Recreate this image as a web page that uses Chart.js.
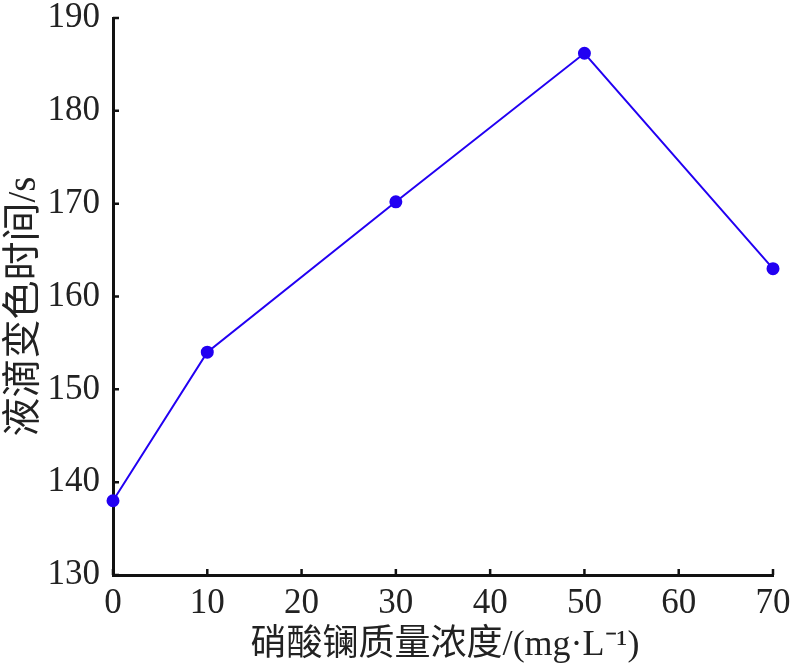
<!DOCTYPE html>
<html>
<head>
<meta charset="utf-8">
<script src="https://cdn.jsdelivr.net/npm/chart.js@4/dist/chart.umd.min.js"></script>
<style>
html,body{margin:0;padding:0;background:#fff;}
#wrap{width:800px;height:667px;position:relative;}
</style>
</head>
<body>
<div id="wrap"><canvas id="c" width="800" height="667"></canvas></div>
<script>
const concentrations = [0, 10, 30, 50, 70];
const colorTimes = [138, 154, 170.2, 186.2, 163];
const xTicks = [0, 10, 20, 30, 40, 50, 60, 70];
const yTicks = [130, 140, 150, 160, 170, 180, 190];
const xTitle = '硝酸镧质量浓度/(mg·L⁻¹)';
const yTitle = '液滴变色时间/s';

const FONT = "'Liberation Serif', 'Noto Sans CJK SC', serif";
const lineColor = '#2200f2';

const inwardTicks = {
  id: 'inwardTicks',
  afterDraw(chart) {
    const ctx = chart.ctx;
    const xs = chart.scales.x, ys = chart.scales.y;
    const L = 6;
    ctx.save();
    ctx.strokeStyle = '#111';
    ctx.lineWidth = 2.5;
    ctx.beginPath();
    xTicks.forEach(v => {
      const px = xs.getPixelForValue(v);
      ctx.moveTo(px, ys.bottom);
      ctx.lineTo(px, ys.bottom - L);
    });
    yTicks.forEach(v => {
      const py = ys.getPixelForValue(v);
      ctx.moveTo(xs.left, py);
      ctx.lineTo(xs.left + L, py);
    });
    ctx.stroke();
    // axis titles
    ctx.fillStyle = '#222';
    ctx.textAlign = 'center';
    ctx.textBaseline = 'alphabetic';
    ctx.font = "36px " + FONT;
    ctx.fillText(xTitle, (xs.left + xs.right) / 2 + 2, 655);
    ctx.save();
    ctx.translate(35, (ys.top + ys.bottom) / 2 + 10);
    ctx.rotate(-Math.PI / 2);
    ctx.font = "39px " + FONT;
    ctx.fillText(yTitle, 0, 0);
    ctx.restore();
    ctx.restore();
  }
};

new Chart(document.getElementById('c'), {
  type: 'scatter',
  data: {
    datasets: [{
      data: concentrations.map((x, i) => ({x: x, y: colorTimes[i]})),
      showLine: true,
      clip: false,
      borderColor: lineColor,
      backgroundColor: lineColor,
      borderWidth: 2,
      pointRadius: 5.5,
      pointHoverRadius: 5.5,
      tension: 0
    }]
  },
  options: {
    responsive: false,
    animation: false,
    devicePixelRatio: 1,
    plugins: { legend: {display: false}, tooltip: {enabled: false} },
    layout: { padding: {top: 18, right: 27, left: 0, bottom: 0} },
    scales: {
      x: {
        type: 'linear',
        min: 0, max: 70,
        afterBuildTicks(s) { s.ticks = xTicks.map(v => ({value: v})); },
        afterFit(s) { s.height = 92; s.paddingLeft = 0; s.paddingRight = 0; },
        grid: {display: false},
        border: {display: true, color: '#111', width: 3},
        ticks: { color: '#222', padding: 0, maxRotation: 0, autoSkip: false,
                 font: {family: FONT, size: 35} },
        title: { display: false }
      },
      y: {
        type: 'linear',
        min: 130, max: 190,
        afterBuildTicks(s) { s.ticks = yTicks.map(v => ({value: v})); },
        afterFit(s) { s.width = 113; s.paddingTop = 0; s.paddingBottom = 0; },
        grid: {display: false},
        border: {display: true, color: '#111', width: 3},
        ticks: { color: '#222', padding: 5, autoSkip: false,
                 font: {family: FONT, size: 35} },
        title: { display: false }
      }
    }
  },
  plugins: [inwardTicks]
});
</script>
</body>
</html>
